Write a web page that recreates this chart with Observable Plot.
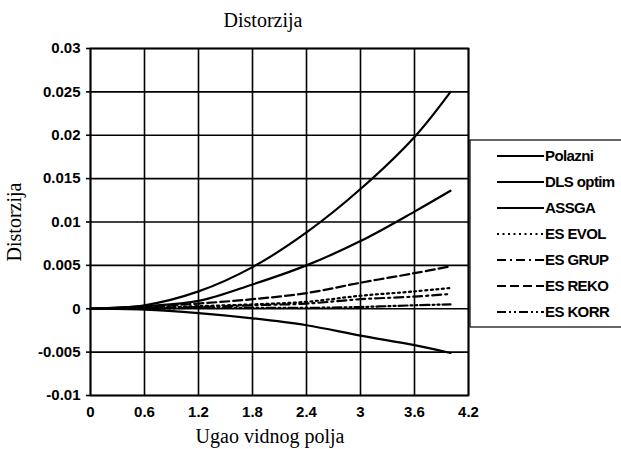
<!DOCTYPE html>
<html><head><meta charset="utf-8">
<script src="https://cdn.jsdelivr.net/npm/d3@7"></script>
<script src="https://cdn.jsdelivr.net/npm/@observablehq/plot@0.6"></script>
<style>body{margin:0;background:#fff}</style>
</head><body><div id="chart"></div>
<script>
const xs = [0, 0.6, 1.2, 1.8, 2.4, 3.0, 3.6, 4.0];
const polazni = [0, 0.0004, 0.002, 0.0048, 0.0088, 0.0138, 0.0198, 0.025];
const dls     = [0, 0.0003, 0.0009, 0.0028, 0.005, 0.0078, 0.0112, 0.0136];
const assga   = [0, -0.0001, -0.0005, -0.0011, -0.0019, -0.0031, -0.0042, -0.0051];
const esEvol  = [0, 0.0001, 0.0003, 0.0005, 0.0008, 0.0015, 0.002, 0.0024];
const esGrup  = [0, 0.0001, 0.0002, 0.0004, 0.0006, 0.0011, 0.0014, 0.0017];
const esReko  = [0, 0.0002, 0.0006, 0.0011, 0.0018, 0.003, 0.0041, 0.0049];
const esKorr  = [0, 0, 0.0001, 0.0001, 0.0001, 0.0002, 0.0004, 0.0005];
const seriesNames = ["Polazni", "DLS optim", "ASSGA", "ES EVOL", "ES GRUP", "ES REKO", "ES KORR"];
const seriesValues = [polazni, dls, assga, esEvol, esGrup, esReko, esKorr];
const xTicks = [0, 0.6, 1.2, 1.8, 2.4, 3, 3.6, 4.2];
const yTicks = [-0.01, -0.005, 0, 0.005, 0.01, 0.015, 0.02, 0.025, 0.03];
const dashes = {"Polazni": null, "DLS optim": null, "ASSGA": null, "ES EVOL": "2,3.5", "ES GRUP": "9,4,2,4", "ES REKO": "9,4", "ES KORR": "9,3,2,3,2,3"};

const rows = [];
seriesNames.forEach((s, i) => xs.forEach((x, j) => rows.push({s, x, y: seriesValues[i][j]})));

const fmt = d => String(+d.toFixed(3)).replace("\u2212", "-");
const tickFont = "'Liberation Sans', Arial, sans-serif";

const plot = Plot.plot({
  width: 621, height: 449,
  marginLeft: 90, marginRight: 153, marginTop: 48, marginBottom: 54,
  style: {background: "#fff", color: "#000", overflow: "visible"},
  x: {domain: [0, 4.2]},
  y: {domain: [-0.01, 0.03]},
  marks: [
    Plot.gridX(xTicks, {stroke: "#000", strokeOpacity: 1, strokeWidth: 1.6}),
    Plot.gridY(yTicks, {stroke: "#000", strokeOpacity: 1, strokeWidth: 1.6}),
    Plot.frame({stroke: "#000", strokeWidth: 1.8}),
    Plot.axisX({ticks: xTicks, tickSize: 0, tickPadding: 11, tickFormat: fmt, label: null,
      fontSize: 15, fontWeight: "bold", fontFamily: tickFont}),
    Plot.axisY({ticks: yTicks, tickSize: 4, tickPadding: 6, tickFormat: fmt, label: null,
      fontSize: 15, fontWeight: "bold", fontFamily: tickFont, strokeWidth: 1.6}),
    ...seriesNames.map(n => Plot.line(rows.filter(r => r.s === n), {
      x: "x", y: "y", curve: "catmull-rom", stroke: "#000", strokeWidth: 2.2,
      strokeDasharray: dashes[n]
    }))
  ]
});

const svg = d3.select(plot);
const serif = "'Liberation Serif', 'Times New Roman', serif";
svg.append("text").attr("x", 263).attr("y", 27).attr("text-anchor", "middle")
  .attr("font-family", serif).attr("font-size", 20).text("Distorzija");
svg.append("text").attr("x", 270).attr("y", 443).attr("text-anchor", "middle")
  .attr("font-family", serif).attr("font-size", 20).text("Ugao vidnog polja");
svg.append("text").attr("transform", "translate(21,222) rotate(-90)").attr("text-anchor", "middle")
  .attr("font-family", serif).attr("font-size", 20).text("Distorzija");

const lg = svg.append("g");
lg.append("rect").attr("x", 470).attr("y", 140).attr("width", 200).attr("height", 187)
  .attr("fill", "none").attr("stroke", "#000").attr("stroke-width", 1.2);
seriesNames.forEach((n, i) => {
  const y = 156 + i * 26;
  lg.append("line").attr("x1", 497).attr("x2", 544).attr("y1", y).attr("y2", y)
    .attr("stroke", "#000").attr("stroke-width", 2.2).attr("stroke-dasharray", dashes[n]);
  lg.append("text").attr("x", 545).attr("y", y).attr("dy", "0.35em").attr("text-anchor", "start")
    .attr("font-family", tickFont).attr("font-weight", "bold").attr("font-size", 15)
    .attr("letter-spacing", "-0.6").text(n);
});

document.getElementById("chart").appendChild(plot);
</script>
</body></html>
